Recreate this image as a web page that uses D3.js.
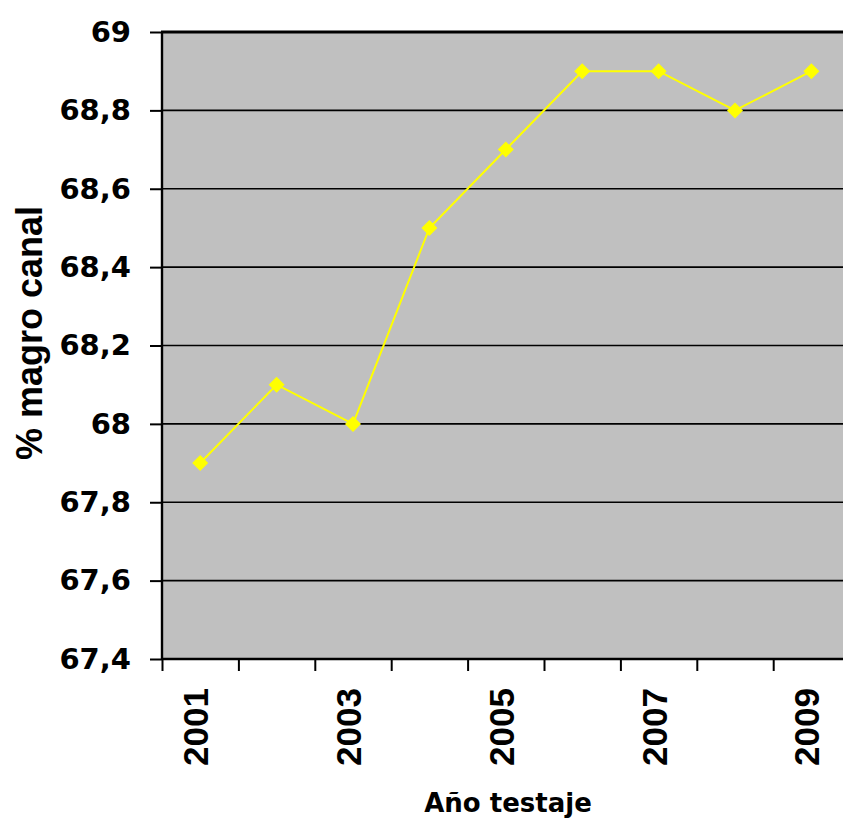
<!DOCTYPE html>
<html>
<head>
<meta charset="utf-8">
<script src="https://cdn.jsdelivr.net/npm/d3@7"></script>
<style>
  html, body { margin: 0; padding: 0; background: #fff; }
  svg { display: block; }
</style>
</head>
<body>
<svg id="chart" width="843" height="821"></svg>
<script>
// Lean meat percentage of the carcass by test year
const years = ["2001", "2002", "2003", "2004", "2005", "2006", "2007", "2008", "2009"];
const magro = [67.9, 68.1, 68.0, 68.5, 68.7, 68.9, 68.9, 68.8, 68.9];
const yTicks = [67.4, 67.6, 67.8, 68.0, 68.2, 68.4, 68.6, 68.8, 69.0];
const xTickLabels = ["2001", "2003", "2005", "2007", "2009"];

const svg = d3.select("#chart");
const plot = { left: 162, top: 32, right: 849.6, bottom: 659 };

const x = d3.scaleBand().domain(years).range([plot.left, plot.right]).padding(0);
const xEdge = d3.scaleLinear().domain([0, years.length]).range([plot.left, plot.right]);
const y = d3.scaleLinear().domain([67.4, 69]).range([plot.bottom, plot.top]);

const fmt = d => (+d.toFixed(1)).toString().replace(".", ",");

// plot background
svg.append("rect")
  .attr("x", plot.left).attr("y", plot.top)
  .attr("width", plot.right - plot.left).attr("height", plot.bottom - plot.top)
  .attr("fill", "#c0c0c0");

// horizontal gridlines
svg.append("g").selectAll("line")
  .data(yTicks.slice(1, -1))
  .join("line")
  .attr("x1", plot.left).attr("x2", plot.right)
  .attr("y1", d => y(d)).attr("y2", d => y(d))
  .attr("stroke", "#000").attr("stroke-width", 1.6);

// top border of the plot area
svg.append("line")
  .attr("x1", plot.left - 1).attr("x2", plot.right)
  .attr("y1", plot.top).attr("y2", plot.top)
  .attr("stroke", "#000").attr("stroke-width", 3);

// y axis
const yAxis = svg.append("g")
  .attr("transform", `translate(${plot.left},0)`)
  .call(d3.axisLeft(y).tickValues(yTicks).tickSize(12).tickPadding(19).tickFormat(fmt));
yAxis.select(".domain").attr("stroke", "#000").attr("stroke-width", 2.4)
  .attr("d", `M0,${plot.top}V${plot.bottom}`);
yAxis.selectAll(".tick line").attr("stroke", "#000").attr("stroke-width", 2);
yAxis.selectAll(".tick text")
  .attr("font-family", "'DejaVu Sans', sans-serif")
  .attr("font-weight", "bold")
  .attr("font-size", 29)
  .attr("fill", "#000");

// x axis: tick marks on category boundaries
const xAxis = svg.append("g")
  .attr("transform", `translate(0,${plot.bottom})`)
  .call(d3.axisBottom(xEdge).tickValues(d3.range(years.length + 1)).tickSize(12).tickFormat(""));
xAxis.select(".domain").attr("stroke", "#000").attr("stroke-width", 2.4)
  .attr("d", `M${plot.left},0H${plot.right}`);
xAxis.selectAll(".tick line").attr("stroke", "#000").attr("stroke-width", 2);

// x category labels, rotated
svg.append("g").selectAll("text")
  .data(xTickLabels)
  .join("text")
  .attr("transform", d => `translate(${x(d) + x.bandwidth() / 2 + 8},688) rotate(-90)`)
  .attr("text-anchor", "end")
  .attr("font-family", "'Liberation Sans', Arial, sans-serif")
  .attr("font-weight", "bold")
  .attr("font-size", 35)
  .attr("fill", "#000")
  .text(d => d);

// series line
const pts = years.map((yr, i) => [x(yr) + x.bandwidth() / 2, y(magro[i])]);
svg.append("path")
  .attr("d", d3.line()(pts))
  .attr("fill", "none")
  .attr("stroke", "#ffff00")
  .attr("stroke-width", 2);

// diamond markers
svg.append("g").selectAll("path")
  .data(pts)
  .join("path")
  .attr("transform", d => `translate(${d[0]},${d[1]})`)
  .attr("d", "M0,-8L8,0L0,8L-8,0Z")
  .attr("fill", "#ffff00");

// axis titles
svg.append("text")
  .attr("transform", "translate(42,333) rotate(-90)")
  .attr("text-anchor", "middle")
  .attr("font-family", "'Liberation Sans', Arial, sans-serif")
  .attr("font-weight", "bold")
  .attr("font-size", 36)
  .attr("fill", "#000")
  .text("% magro canal");

svg.append("text")
  .attr("x", 508).attr("y", 812)
  .attr("text-anchor", "middle")
  .attr("font-family", "'DejaVu Sans', sans-serif")
  .attr("font-weight", "bold")
  .attr("font-size", 26)
  .attr("fill", "#000")
  .text("Año testaje");
</script>
</body>
</html>
